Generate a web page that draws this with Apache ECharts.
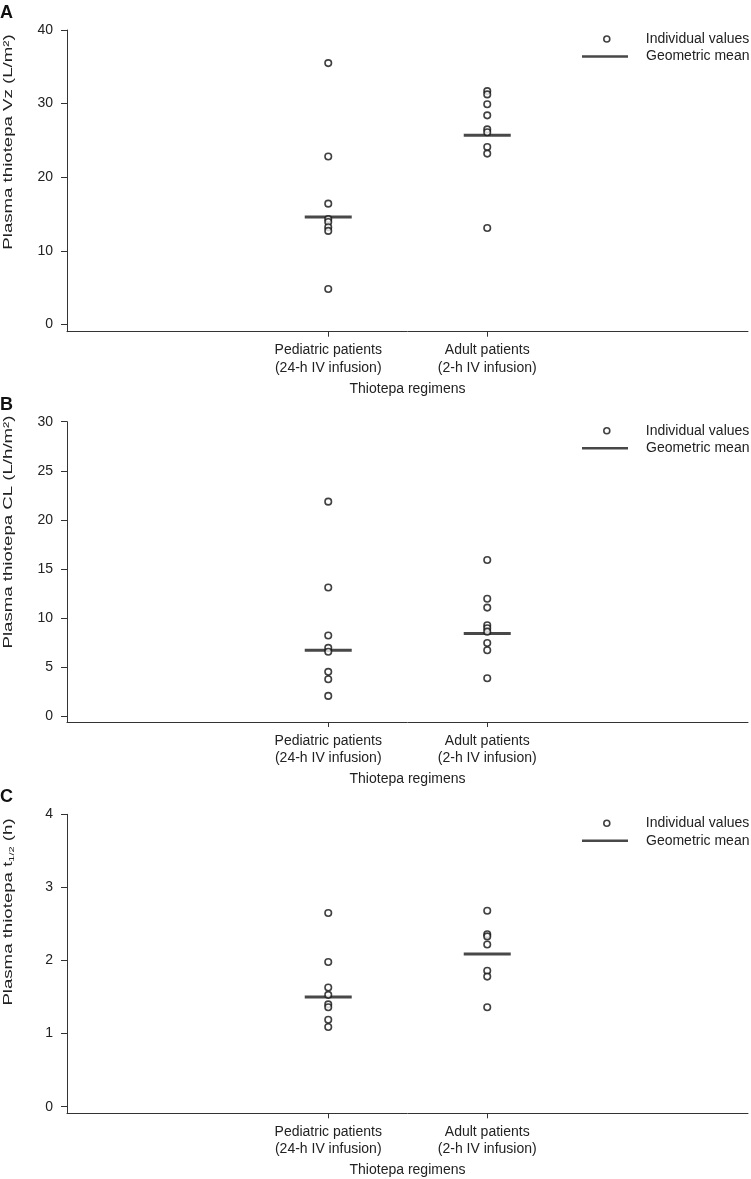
<!DOCTYPE html>
<html>
<head>
<meta charset="utf-8">
<script src="https://cdn.jsdelivr.net/npm/echarts@6/dist/echarts.min.js"></script>
<style>
html,body{margin:0;padding:0;background:#fff;}
#chart{width:751px;height:1179px;}
</style>
</head>
<body>
<div id="chart"></div>
<script>
// ---- data ----
const categories = ["Pediatric patients\n(24-h IV infusion)", "Adult patients\n(2-h IV infusion)"];
const xAxisTitle = "Thiotepa regimens";
const legendNames = ["Individual values", "Geometric mean"];
const panelLetters = ["A", "B", "C"];

const vzPediatric = [35.5, 22.8, 16.4, 14.3, 13.9, 13.2, 12.7, 4.8];
const vzAdult = [31.7, 31.25, 29.9, 28.4, 26.5, 26.1, 24.1, 23.2, 13.1];
const vzMean = [14.6, 25.7];
const vzTicks = [0, 10, 20, 30, 40];

const clPediatric = [21.85, 13.1, 8.2, 6.95, 6.55, 4.5, 3.75, 2.05];
const clAdult = [15.9, 11.95, 11.05, 9.25, 8.95, 8.6, 7.45, 6.7, 3.85];
const clMean = [6.7, 8.4];
const clTicks = [0, 5, 10, 15, 20, 25, 30];

const t12Pediatric = [2.65, 1.98, 1.63, 1.53, 1.4, 1.36, 1.19, 1.09];
const t12Adult = [2.68, 2.36, 2.33, 2.22, 1.86, 1.78, 1.36];
const t12Mean = [1.5, 2.09];
const t12Ticks = [0, 1, 2, 3, 4];

const yNames = [
  "Plasma thiotepa Vz (L/m²)",
  "Plasma thiotepa CL (L/h/m²)",
  "Plasma thiotepa t{sub|1/2} (h)"
];

// ---- layout ----
const FONT = "Liberation Sans, Arial, Helvetica, sans-serif";
const TXT = "#222";
const AX = "#333";
const panels = [
  {ped: vzPediatric, adu: vzAdult, mean: vzMean, ticks: vzTicks, min: -1.0, top: 30, height: 301.7, nameY: 142},
  {ped: clPediatric, adu: clAdult, mean: clMean, ticks: clTicks, min: -0.61, top: 421.7, height: 300.3, nameY: 532},
  {ped: t12Pediatric, adu: t12Adult, mean: t12Mean, ticks: t12Ticks, min: -0.09, top: 814.3, height: 299, nameY: 912}
];

const grid = [], xAxis = [], yAxis = [], series = [], legend = [], title = [], graphic = [];
panels.forEach((p, i) => {
  grid.push({left: 67, width: 681, top: p.top, height: p.height, outerBoundsMode: 'none', containLabel: false});
  xAxis.push({
    type: 'value', gridIndex: i, min: -0.643, max: 3.64,
    splitLine: {show: false},
    axisLine: {show: true, onZero: false, lineStyle: {color: AX, width: 1}},
    axisTick: {show: true, customValues: [1, 2], length: 5, lineStyle: {color: AX}},
    axisLabel: {
      customValues: [1, 2], margin: 10,
      formatter: v => categories[Math.round(v) - 1] || '',
      color: TXT, fontFamily: FONT, fontSize: 14, lineHeight: 17.5
    },
    name: xAxisTitle, nameLocation: 'middle', nameGap: 50,
    nameTextStyle: {color: TXT, fontFamily: FONT, fontSize: 14}
  });
  const maxV = p.ticks[p.ticks.length - 1];
  yAxis.push({
    type: 'value', gridIndex: i, min: p.min, max: maxV,
    splitLine: {show: false},
    axisLine: {show: true, onZero: false, lineStyle: {color: AX, width: 1}},
    axisTick: {show: true, customValues: p.ticks, length: 6, lineStyle: {color: AX}},
    axisLabel: {customValues: p.ticks, margin: 14, color: TXT, fontFamily: FONT, fontSize: 14}
  });
  // y-axis title (stretched along its length like the reference)
  graphic.push({
    type: 'text', x: 8, y: p.nameY, rotation: Math.PI / 2, scaleX: 1.38, scaleY: 1,
    style: {
      text: yNames[i], font: '13.5px "Liberation Sans", Arial, sans-serif', fill: TXT, align: 'center', verticalAlign: 'middle',
      rich: {sub: {fontSize: 8, fontFamily: FONT, fill: TXT, verticalAlign: 'bottom', padding: [7, 0, 0, 0]}}
    }
  });
  const pts = p.ped.map(v => [1, v]).concat(p.adu.map(v => [2, v]));
  series.push({
    type: 'scatter', name: legendNames[0], xAxisIndex: i, yAxisIndex: i,
    data: pts, symbol: 'circle', symbolSize: 6.5,
    itemStyle: {color: '#fff', borderColor: '#111', borderWidth: 1.6},
    z: 3
  });
  series.push({
    type: 'scatter', name: legendNames[1], xAxisIndex: i, yAxisIndex: i,
    data: p.mean.map((v, k) => [k + 1, v]), symbol: 'rect', symbolSize: [47, 3],
    itemStyle: {color: '#1a1a1a'}, z: 2
  });
  legend.push({
    data: [{name: legendNames[0], icon: 'circle', itemStyle: {color: '#fff', borderColor: '#111', borderWidth: 1.6}}],
    left: 603, top: p.top + 10 - 8, itemWidth: 46, itemHeight: 6, padding: 0,
    textStyle: {color: TXT, fontFamily: FONT, fontSize: 14, padding: [0, 0, 0, 11]},
    selectedMode: false
  });
  legend.push({
    data: [{name: legendNames[1], icon: 'rect', itemStyle: {color: '#1a1a1a'}}],
    left: 582, top: p.top + 27.5 - 8, itemWidth: 46, itemHeight: 2.5, padding: 0,
    textStyle: {color: TXT, fontFamily: FONT, fontSize: 14, padding: [0, 0, 0, 13]},
    selectedMode: false
  });
  title.push({
    text: panelLetters[i], left: 0, top: p.top - 26, padding: 0,
    textStyle: {fontFamily: FONT, fontSize: 18, fontWeight: 'bold', color: '#111'}
  });
});

const chart = echarts.init(document.getElementById('chart'), null, {renderer: 'canvas'});
chart.setOption({
  backgroundColor: '#fff',
  animation: false,
  title, grid, xAxis, yAxis, series, legend, graphic
});
</script>
</body>
</html>
